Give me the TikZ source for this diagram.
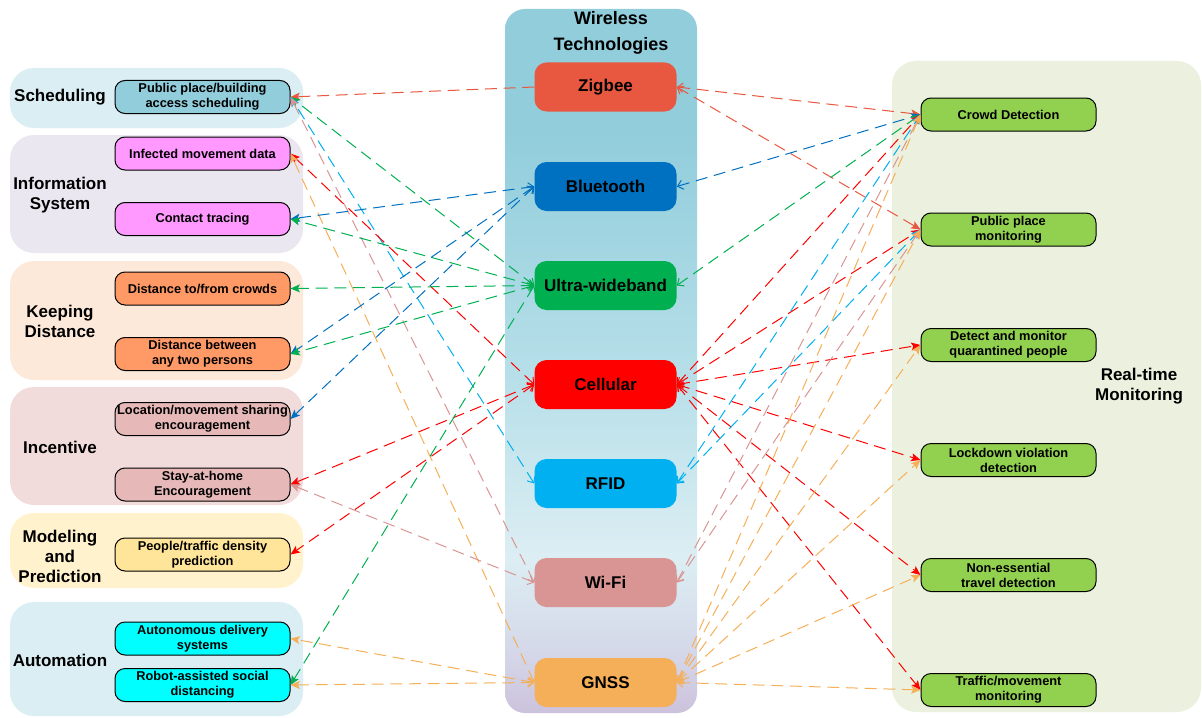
\documentclass[tikz,border=0pt]{standalone}
\usepackage{fontspec}
\setmainfont{Liberation Sans}
\usetikzlibrary{arrows.meta}
\definecolor{cZig}{HTML}{E8573F}
\definecolor{cBT}{HTML}{0070C0}
\definecolor{cUWB}{HTML}{00B050}
\definecolor{cCell}{HTML}{FF0000}
\definecolor{cRFID}{HTML}{00B0F0}
\definecolor{cWiFi}{HTML}{D99594}
\definecolor{cGNSS}{HTML}{F5AF58}
\definecolor{gSched}{HTML}{DAEEF3}
\definecolor{gInfo}{HTML}{EBE7F0}
\definecolor{gKeep}{HTML}{FDE9D9}
\definecolor{gInc}{HTML}{F2DCDB}
\definecolor{gMod}{HTML}{FFF2CC}
\definecolor{gAuto}{HTML}{DAEEF3}
\definecolor{gRT}{HTML}{EBF1DE}
\definecolor{fSched}{HTML}{92CDDC}
\definecolor{fInfo}{HTML}{FF99FF}
\definecolor{fKeep}{HTML}{FF9966}
\definecolor{fInc}{HTML}{E6B9B8}
\definecolor{fMod}{HTML}{FFE599}
\definecolor{fAuto}{HTML}{00FFFF}
\definecolor{fRT}{HTML}{92D050}
\definecolor{pTop}{HTML}{92CDDC}
\definecolor{pMid}{HTML}{B4DEE8}
\definecolor{pLight}{HTML}{DCEEF3}
\definecolor{pLav}{HTML}{D4D6E8}
\definecolor{pBot}{HTML}{CCC2DC}
\pgfdeclareverticalshading{techshade}{100bp}{color(0bp)=(pBot); color(25bp)=(pBot); color(29bp)=(pLav); color(36bp)=(pLight); color(50bp)=(pMid); color(66bp)=(pTop); color(100bp)=(pTop)}
\newcommand\appfont{\fontsize{9.6}{11.25}\selectfont\bfseries}
\newcommand\bigfont{\fontsize{12.75}{15}\selectfont\bfseries}
\begin{document}
\begin{tikzpicture}[x=0.75pt,y=-0.75pt,
  grp/.style={fill=#1,draw=none,rounded corners=18pt},
  app/.style={draw=black,line width=0.75pt,fill=#1,rounded corners=7.5pt,
    minimum width=131.25pt,minimum height=24.75pt,inner sep=0pt,align=center,font=\appfont},
  tech/.style={fill=#1,draw=none,rounded corners=9pt,
    minimum width=106.5pt,minimum height=36.75pt,inner sep=0pt,font=\bigfont},
  glabel/.style={align=center,font=\bigfont,inner sep=0pt},
  link/.style={draw=#1,line width=0.75pt,dash pattern=on 9pt off 5pt,
    {Straight Barb[length=4pt,width=7pt]}-{Stealth[length=7pt,width=6pt,inset=1.5pt]}},
  linkx/.style={draw=#1,line width=0.75pt,dash pattern=on 9pt off 5pt,
    -{Stealth[length=7pt,width=6pt,inset=1.5pt]}}
]
\useasboundingbox (0,0) rectangle (1202,717);
% backgrounds
\fill[grp=gSched] (10,68) rectangle (303,128);
\fill[grp=gInfo] (10,135) rectangle (303,253);
\fill[grp=gKeep] (10,261) rectangle (303,380);
\fill[grp=gInc] (10,387) rectangle (303,505);
\fill[grp=gMod] (10,513) rectangle (303,588);
\fill[grp=gAuto] (10,602) rectangle (303,716);
\fill[grp=gRT] (892,61) rectangle (1201,712);
\shade[shading=techshade,rounded corners=15pt] (505,9) rectangle (697,713);
% group labels
\node[glabel] (lSched) at (60,97) {Scheduling};
\node[glabel] (lInfo) at (60,195) {Information\\System};
\node[glabel] (lKeep) at (60,321) {Keeping\\Distance};
\node[glabel] (lInc) at (60,447) {Incentive};
\node[glabel] (lMod) at (60,556) {Modeling\\and\\Prediction};
\node[glabel] (lAuto) at (60,660) {Automation};
\node[glabel,font={\fontsize{13.5}{19.5}\selectfont\bfseries}] (lTech) at (611,33) {Wireless\\Technologies};
\node[glabel] (lRT) at (1139,386) {Real-time\\Monitoring};
% application nodes
\node[app=fSched] (a1) at (202.5,97) {Public place/building\\access scheduling};
\node[app=fInfo] (a2) at (202.5,153.5) {Infected movement data};
\node[app=fInfo] (a3) at (202.5,219) {Contact tracing};
\node[app=fKeep] (a4) at (202.5,288.5) {Distance to/from crowds};
\node[app=fKeep] (a5) at (202.5,354) {Distance between\\any two persons};
\node[app=fInc] (a6) at (202.5,419) {Location/movement sharing\\encouragement};
\node[app=fInc] (a7) at (202.5,484.5) {Stay-at-home\\Encouragement};
\node[app=fMod] (a8) at (202.5,554.5) {People/traffic density\\prediction};
\node[app=fAuto] (a9) at (202.5,638.5) {Autonomous delivery\\systems};
\node[app=fAuto] (a10) at (202.5,685) {Robot-assisted social\\distancing};
% technology nodes
\node[tech=cZig] (zig) at (605.5,87) {Zigbee};
\node[tech=cBT] (bt) at (605.5,186.5) {Bluetooth};
\node[tech=cUWB] (uwb) at (605.5,285.5) {Ultra-wideband};
\node[tech=cCell] (cell) at (605.5,384.5) {Cellular};
\node[tech=cRFID] (rfid) at (605.5,483.5) {RFID};
\node[tech=cWiFi] (wifi) at (605.5,582.5) {Wi-Fi};
\node[tech=cGNSS] (gnss) at (605.5,682.5) {GNSS};
% monitoring nodes
\node[app=fRT] (r1) at (1008.5,114.5) {Crowd Detection};
\node[app=fRT] (r2) at (1008.5,229.5) {Public place\\monitoring};
\node[app=fRT] (r3) at (1008.5,345) {Detect and monitor\\quarantined people};
\node[app=fRT] (r4) at (1008.5,460) {Lockdown violation\\detection};
\node[app=fRT] (r5) at (1008.5,575) {Non-essential\\travel detection};
\node[app=fRT] (r6) at (1008.5,690) {Traffic/movement\\monitoring};
% left links
\draw[linkx=cZig] (zig.west) -- (a1.east);
\draw[link=cUWB] (uwb.west) -- (a1.east);
\draw[link=cRFID] (rfid.west) -- (a1.east);
\draw[link=cWiFi] (wifi.west) -- (a1.east);
\draw[link=cCell] (cell.west) -- (a2.east);
\draw[link=cGNSS] (gnss.west) -- (a2.east);
\draw[link=cBT] (bt.west) -- (a3.east);
\draw[link=cUWB] (uwb.west) -- (a3.east);
\draw[link=cUWB] (uwb.west) -- (a4.east);
\draw[link=cBT] (bt.west) -- (a5.east);
\draw[link=cUWB] (uwb.west) -- (a5.east);
\draw[link=cBT] (bt.west) -- (a6.east);
\draw[link=cCell] (cell.west) -- (a7.east);
\draw[link=cWiFi] (wifi.west) -- (a7.east);
\draw[link=cCell] (cell.west) -- (a8.east);
\draw[link=cGNSS] (gnss.west) -- (a9.east);
\draw[link=cUWB] (uwb.west) -- (a10.east);
\draw[link=cGNSS] (gnss.west) -- (a10.east);
% right links
\draw[link=cZig] (zig.east) -- (r1.west);
\draw[link=cZig] (zig.east) -- (r2.west);
\draw[link=cBT] (bt.east) -- (r1.west);
\draw[link=cUWB] (uwb.east) -- (r1.west);
\foreach \r in {r1,r2,r3,r4,r5,r6} {\draw[link=cCell] (cell.east) -- (\r.west);}
\draw[link=cRFID] (rfid.east) -- (r1.west);
\draw[link=cRFID] (rfid.east) -- (r2.west);
\draw[link=cWiFi] (wifi.east) -- (r1.west);
\draw[link=cWiFi] (wifi.east) -- (r2.west);
\foreach \r in {r1,r2,r3,r4,r5,r6} {\draw[link=cGNSS] (gnss.east) -- (\r.west);}
\end{tikzpicture}
\end{document}
